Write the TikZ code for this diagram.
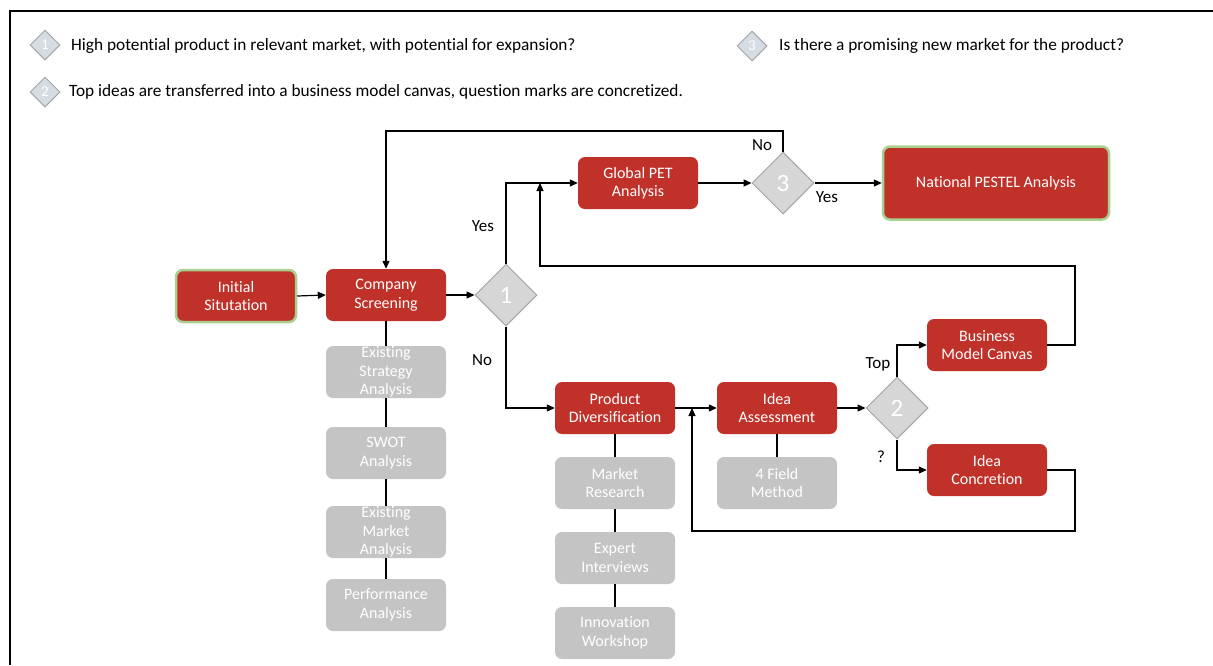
\documentclass[tikz,border=0pt]{standalone}
\usepackage{fontspec}
\setmainfont{Carlito}[Ligatures=NoCommon]
\usetikzlibrary{arrows.meta,shapes.geometric}
\definecolor{boxred}{RGB}{192,49,42}
\definecolor{boxgray}{RGB}{196,196,196}
\definecolor{edgegreen}{RGB}{169,208,142}
\definecolor{diafill}{RGB}{214,214,214}
\definecolor{diaedge}{RGB}{165,165,165}
\definecolor{keyfill}{RGB}{213,220,228}
\begin{document}
\begin{tikzpicture}[x=1pt,y=-1pt,
  redbox/.style={rectangle, rounded corners=7pt, fill=boxred, text=white,
    minimum width=120pt, minimum height=52pt, align=center, inner sep=0pt,
    font=\fontsize{16}{18.5}\selectfont},
  graybox/.style={redbox, fill=boxgray},
  greenedge/.style={draw=edgegreen, line width=2.5pt},
  decision/.style={diamond, fill=diafill, draw=diaedge, line width=1pt,
    minimum width=62pt, minimum height=62pt, inner sep=0pt, text=white,
    font=\fontsize{25}{25}\selectfont},
  keydia/.style={diamond, fill=keyfill, draw=diaedge, line width=1pt,
    minimum width=30pt, minimum height=30pt, inner sep=0pt, text=white,
    font=\fontsize{15}{15}\selectfont},
  keytext/.style={anchor=west, inner sep=0pt, font=\fontsize{17.3}{20}\selectfont},
  lbl/.style={inner sep=0pt, font=\fontsize{17}{20}\selectfont},
  arr/.style={line width=1.2pt, -{Triangle[length=8pt,width=7pt]}},
  link/.style={line width=1.2pt}]
\useasboundingbox (0,0) rectangle (1213,665);

% outer frame
\draw[line width=1.8pt] (10,665) -- (10,11) -- (1213,11);

% key
\node[keydia] (k1) at (45,45) {1};
\node[keytext] (t1) at (71,46) {High potential product in relevant market, with potential for expansion?};
\node[keydia] (k2) at (45,92) {2};
\node[keytext] (t2) at (69,92) {Top ideas are transferred into a business model canvas, question marks are concretized.};
\node[keydia] (k3) at (752,46) {3};
\node[keytext] (t3) at (779,46) {Is there a promising new market for the product?};

% main steps
\node[redbox, greenedge] (init) at (236,296) {Initial\\Situtation};
\node[redbox] (cs) at (386,295) {Company\\Screening};
\node[decision] (d1) at (506,295) {1};
\node[redbox] (gpet) at (638,183) {Global PET\\Analysis};
\node[decision] (d3) at (783,183) {3};
\node[redbox, greenedge, minimum width=226pt, minimum height=73pt] (pestel) at (996,183) {National PESTEL Analysis};
\node[redbox] (pd) at (615,408) {Product\\Diversification};
\node[redbox] (ia) at (777,408) {Idea\\Assessment};
\node[decision] (d2) at (897,408) {2};
\node[redbox] (bmc) at (987,345) {Business\\Model Canvas};
\node[redbox] (ic) at (987,470) {Idea\\Concretion};

% supporting methods
\node[graybox] (esa) at (386,372) {Existing\\Strategy\\Analysis};
\node[graybox] (swot) at (386,453) {SWOT\\Analysis};
\node[graybox] (ema) at (386,532) {Existing\\Market\\Analysis};
\node[graybox] (perf) at (386,605) {Performance\\Analysis};
\node[graybox] (mr) at (615,483) {Market\\Research};
\node[graybox] (ei) at (615,558) {Expert\\Interviews};
\node[graybox] (iw) at (615,633) {Innovation\\Workshop};
\node[graybox] (fm) at (777,483) {4 Field\\Method};

% routing points
\coordinate (looptop) at (0,131);
\coordinate (rx) at (1075,0);
\coordinate (fb) at (540,266);
\coordinate (lb) at (692,531);

% flow
\draw[arr] (init.east) -- (cs.west);
\draw[arr] (cs.east) -- (d1.west);
\draw[arr] (d1.north) |- (gpet.west);
\draw[arr] (d1.south) |- (pd.west);
\draw[arr] (gpet.east) -- (d3.west);
\draw[arr] (d3.east) -- (pestel.west);
\draw[arr] (d3.north) -- (d3.north |- looptop) -| (cs.north);
\draw[arr] (bmc.east) -| (rx |- fb) -- (fb) -- (fb |- gpet.west);
\draw[arr] (pd.east) -- (ia.west);
\draw[arr] (ia.east) -- (d2.west);
\draw[arr] (d2.north) |- (bmc.west);
\draw[arr] (d2.south) |- (ic.west);
\draw[arr] (ic.east) -| (rx |- lb) -- (lb) -- (lb |- pd.east);

% method links
\draw[link] (cs.south) -- (esa.north);
\draw[link] (esa.south) -- (swot.north);
\draw[link] (swot.south) -- (ema.north);
\draw[link] (ema.south) -- (perf.north);
\draw[link] (pd.south) -- (mr.north);
\draw[link] (mr.south) -- (ei.north);
\draw[link] (ei.south) -- (iw.north);
\draw[link] (ia.south) -- (fm.north);

% branch labels
\node[lbl] (yes1) at (483,226) {Yes};
\node[lbl] (no1) at (482,360) {No};
\node[lbl] (no3) at (762,145) {No};
\node[lbl] (yes3) at (827,197) {Yes};
\node[lbl] (top2) at (878,364) {Top};
\node[lbl] (q2) at (881,457) {?};
\end{tikzpicture}
\end{document}
